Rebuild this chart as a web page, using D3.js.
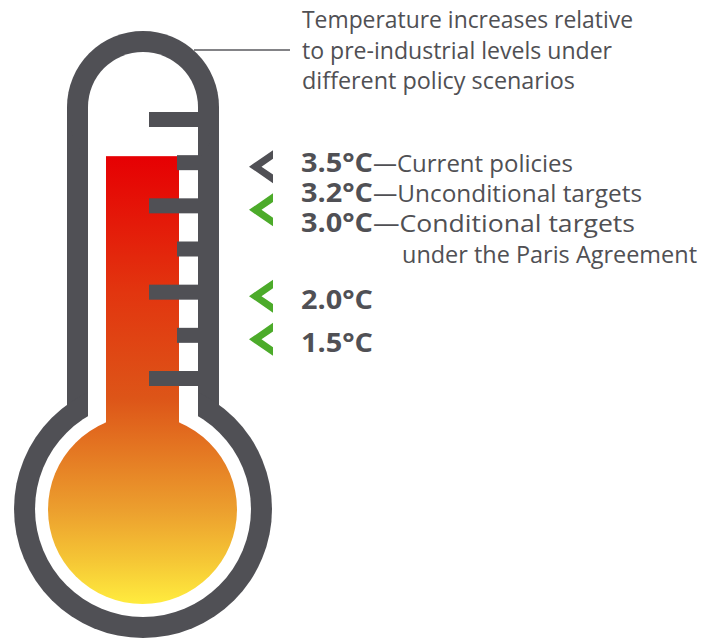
<!DOCTYPE html>
<html>
<head>
<meta charset="utf-8">
<script src="https://cdn.jsdelivr.net/npm/d3@7"></script>
<style>
  html, body { margin: 0; padding: 0; background: #ffffff; }
  svg { display: block; }
</style>
</head>
<body>
<div id="chart"></div>
<script>
// ---------- data ----------
const titleLines = ["Temperature increases relative", "to pre-industrial levels under", "different policy scenarios"];
const tickValues = [1.0, 1.5, 2.0, 2.5, 3.0, 3.5, 4.0];
const fillValue = 3.5;
const scenarioValues = [3.5, 3.2, 3.0, 2.0, 1.5];
const scenarioLabels = ["3.5°C", "3.2°C", "3.0°C", "2.0°C", "1.5°C"];
const scenarioDescriptions = ["Current policies", "Unconditional targets", "Conditional targets", "", ""];
const scenarioExtraLines = ["", "", "under the Paris Agreement", "", ""];
const arrowValues = [3.5, 3.0, 2.0, 1.5];
const arrowKinds = ["current", "target", "target", "target"];

// ---------- setup ----------
const W = 718, H = 638;
const grey = "#505055";
const green = "#4cab2a";
const textGrey = "#505054";
const svg = d3.select("#chart").append("svg").attr("width", W).attr("height", H);

const y = d3.scaleLinear().domain([1, 4]).range([378.5, 119.5]);
const arrowColor = d3.scaleOrdinal().domain(["current", "target"]).range([grey, green]);

const cx = 143, topCy = 107, bulbCy = 509;

// gradient
const defs = svg.append("defs");
const grad = defs.append("linearGradient").attr("id", "heat")
  .attr("gradientUnits", "userSpaceOnUse")
  .attr("x1", 0).attr("x2", 0).attr("y1", 157).attr("y2", 604);
[[0, "#e60003"], [0.3, "#e2350f"], [0.54, "#dd5518"], [0.62, "#e26c1f"],
 [0.79, "#ec9f2e"], [0.9, "#f5c535"], [1, "#ffec3e"]].forEach(s =>
  grad.append("stop").attr("offset", s[0]).attr("stop-color", s[1]));

// outer grey body
const body = svg.append("g").attr("fill", grey);
body.append("rect").attr("x", cx - 76).attr("y", topCy).attr("width", 152).attr("height", 400);
body.append("circle").attr("cx", cx).attr("cy", topCy).attr("r", 76);
body.append("circle").attr("cx", cx).attr("cy", bulbCy).attr("r", 129);

// inner white
const inner = svg.append("g").attr("fill", "#ffffff");
inner.append("rect").attr("x", cx - 55).attr("y", topCy).attr("width", 110).attr("height", 400);
inner.append("circle").attr("cx", cx).attr("cy", topCy).attr("r", 55);
inner.append("circle").attr("cx", cx).attr("cy", bulbCy).attr("r", 108);

// mercury
const fillTop = y(fillValue) - 6.5;
const merc = svg.append("g").attr("fill", "url(#heat)");
merc.append("rect").attr("x", 106).attr("y", fillTop).attr("width", 73).attr("height", bulbCy - fillTop);
merc.append("circle").attr("cx", cx - 0.5).attr("cy", bulbCy + 0.5).attr("r", 94.5);

// ticks
svg.append("g").attr("fill", grey).selectAll("rect").data(tickValues).join("rect")
  .attr("x", d => Number.isInteger(d) ? 149 : 177)
  .attr("width", d => Number.isInteger(d) ? 51 : 23)
  .attr("y", d => y(d) - 7.5)
  .attr("height", 15);

// leader line + title
svg.append("line").attr("x1", 194).attr("x2", 290).attr("y1", 50).attr("y2", 50)
  .attr("stroke", "#5a5a5e").attr("stroke-width", 1.3);
const titleWidths = [331, 310, 273];
svg.append("g").selectAll("text").data(titleLines).join("text")
  .attr("x", 302).attr("y", (d, i) => 28 + i * 30.5)
  .attr("font-family", "'Open Sans', sans-serif").attr("font-size", 24.5)
  .attr("fill", textGrey)
  .attr("textLength", (d, i) => titleWidths[i]).attr("lengthAdjust", "spacingAndGlyphs")
  .text(d => d);

// arrows
const chevron = "M0,0 L24,-16.5 L24,-7.8 L12.5,0 L24,7.8 L24,16.5 Z";
svg.append("g").selectAll("path").data(arrowValues).join("path")
  .attr("transform", d => `translate(249,${y(d) + 4})`)
  .attr("d", chevron)
  .attr("fill", (d, i) => arrowColor(arrowKinds[i]));

// labels
const baseline = (v, i) => i < 3 ? y(scenarioValues[0]) + 9 + i * 30 : y(v) + 17;
const lab = svg.append("g");
lab.selectAll("text.val").data(scenarioValues).join("text").attr("class", "val")
  .attr("x", 301).attr("y", (d, i) => baseline(d, i))
  .attr("font-family", "'Open Sans', sans-serif").attr("font-weight", 700).attr("font-size", 27.5)
  .attr("fill", grey)
  .attr("textLength", 72).attr("lengthAdjust", "spacingAndGlyphs")
  .text((d, i) => scenarioLabels[i]);

const descWidths = [200, 269, 262];
lab.selectAll("text.desc").data(scenarioValues.filter((d, i) => scenarioDescriptions[i])).join("text").attr("class", "desc")
  .attr("x", 373).attr("y", (d, i) => baseline(d, i))
  .attr("font-family", "'Open Sans', sans-serif").attr("font-size", 23)
  .attr("fill", textGrey)
  .attr("textLength", (d, i) => descWidths[i]).attr("lengthAdjust", "spacingAndGlyphs")
  .text((d, i) => "—" + scenarioDescriptions[i]);

lab.selectAll("text.extra").data(scenarioValues.filter((d, i) => scenarioExtraLines[i])).join("text").attr("class", "extra")
  .attr("x", 402).attr("y", d => baseline(d, scenarioValues.indexOf(d)) + 31)
  .attr("font-family", "'Open Sans', sans-serif").attr("font-size", 23)
  .attr("fill", textGrey)
  .attr("textLength", 295).attr("lengthAdjust", "spacingAndGlyphs")
  .text(d => scenarioExtraLines[scenarioValues.indexOf(d)]);
</script>
</body>
</html>
